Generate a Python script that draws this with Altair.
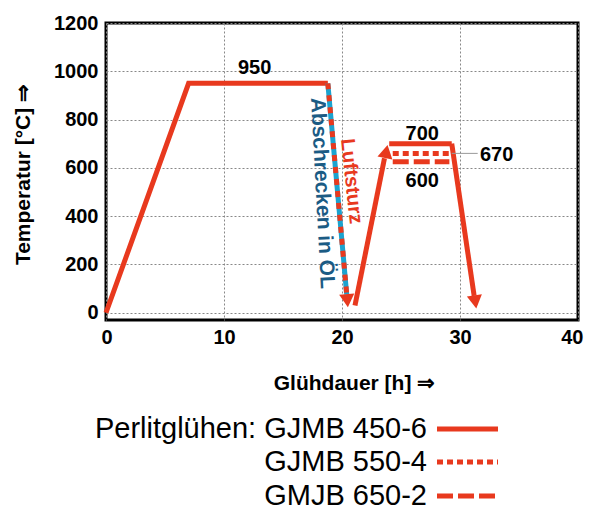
import math
import altair as alt
import pandas as pd

RED = "#E8391E"
CYAN = "#1BA3CF"
BLUE = "#1B5B84"

# ---- data ----
heat_t = [0, 7, 18.8]
heat_T = [0, 950, 950]
quench_t = [18.8, 20.4]
quench_T = [950, 75]
reheat_t = [21.1, 23.6]
reheat_T = [30, 640]
hold_t = [24.0, 29.3]
hold_T = [700, 700]
cool_t = [29.3, 31.2]
cool_T = [700, 70]
hold670_t = [24.3, 29.1]
hold670_T = [660, 660]
hold600_t = [24.3, 29.1]
hold600_T = [625, 625]
leader_t = [29.3, 31.5]
leader_T = [660, 660]

# arrow heads: center and the segment they continue
arrow_t = [20.45, 23.75, 31.3]
arrow_T = [50, 668, 45]
arrow_from_t = [18.8, 21.1, 29.3]
arrow_from_T = [950, 30, 700]

label_text = ["950", "700", "600", "670"]
label_t = [12.6, 26.8, 26.8, 33.1]
label_T = [1012, 740, 545, 655]

rot_text = ["Luftsturz", "Abschrecken in ÖL"]
rot_t = [20.8, 18.3]
rot_T = [545, 495]
rot_color = [RED, BLUE]
rot_angle = [84, 87]
rot_size = [20, 21]

legend_names = ["Perlitglühen: GJMB 450-6", "GJMB 550-4", "GMJB 650-2"]

x_ticks = [0, 10, 20, 30, 40]
y_ticks = [0, 200, 400, 600, 800, 1000, 1200]

W, H = 472, 297
XDOM = [0, 40]
YDOM = [-30, 1200]
px_per_t = W / (XDOM[1] - XDOM[0])
px_per_T = H / (YDOM[1] - YDOM[0])

xs = alt.Scale(domain=XDOM, nice=False, zero=False)
ys = alt.Scale(domain=YDOM, nice=False, zero=False)

FONT = "Liberation Sans"


def seg_df(t, T):
    return pd.DataFrame({"t": t, "T": T, "o": list(range(len(t)))})


def line(t, T, color, width=5, dash=None, cap="butt"):
    kw = dict(color=color, strokeWidth=width, strokeCap=cap, strokeJoin="miter")
    if dash:
        kw["strokeDash"] = dash
    return alt.Chart(seg_df(t, T)).mark_line(**kw).encode(
        x=alt.X("t:Q", scale=xs), y=alt.Y("T:Q", scale=ys), order="o:Q"
    )


axis_common = dict(
    titleFont=FONT,
    titleFontSize=21,
    titleFontWeight="bold",
    titleColor="black",
    titleBaseline="middle",
    labelFont=FONT,
    labelFontSize=20,
    labelFontWeight="bold",
    labelColor="black",
    format="d",
    domain=False,
    ticks=False,
    grid=True,
    gridColor="#888888",
    gridDash=[2, 2],
    gridWidth=1,
)

base_axes = alt.Chart(pd.DataFrame({"t": [0], "T": [0]})).mark_point(opacity=0).encode(
    x=alt.X(
        "t:Q",
        scale=xs,
        axis=alt.Axis(values=x_ticks, title="Glühdauer [h] ⇒", titleX=248, titleY=63,
                      labelPadding=7, labelFlush=True, labelFlushOffset=5, **axis_common),
    ),
    y=alt.Y(
        "T:Q",
        scale=ys,
        axis=alt.Axis(values=y_ticks, title="Temperatur [°C] ⇒", titleX=-83, titleY=151,
                      titleAngle=270, labelPadding=8, labelFlush=False, **axis_common),
    ),
)

layers = [base_axes]
layers.append(line(heat_t, heat_T, RED))
layers.append(line(quench_t, quench_T, CYAN))
layers.append(line(quench_t, quench_T, RED, dash=[6, 6]))
layers.append(line(reheat_t, reheat_T, RED))
layers.append(line(hold_t, hold_T, RED))
layers.append(line(cool_t, cool_T, RED))
layers.append(line(hold670_t, hold670_T, RED, dash=[6, 4]))
layers.append(line(hold600_t, hold600_T, RED, dash=[16, 5]))
layers.append(line(leader_t, leader_T, "#999999", width=1))

# arrow heads
angles = []
for t1, T1, t0, T0 in zip(arrow_t, arrow_T, arrow_from_t, arrow_from_T):
    dx = (t1 - t0) * px_per_t
    dy = -(T1 - T0) * px_per_T
    angles.append((math.degrees(math.atan2(dx, -dy)) + 360) % 360)
arrows = pd.DataFrame({"t": arrow_t, "T": arrow_T, "a": angles})
layers.append(
    alt.Chart(arrows)
    .mark_point(shape="triangle-up", filled=True, color=RED, size=230, opacity=1)
    .encode(x=alt.X("t:Q", scale=xs), y=alt.Y("T:Q", scale=ys), angle=alt.Angle("a:Q", scale=None))
)

labels = pd.DataFrame({"txt": label_text, "t": label_t, "T": label_T})
layers.append(
    alt.Chart(labels)
    .mark_text(font=FONT, fontSize=20, fontWeight="bold", color="black", align="center", baseline="middle")
    .encode(x=alt.X("t:Q", scale=xs), y=alt.Y("T:Q", scale=ys), text="txt:N")
)

for txt, t, T, c, a, s in zip(rot_text, rot_t, rot_T, rot_color, rot_angle, rot_size):
    layers.append(
        alt.Chart(pd.DataFrame({"txt": [txt], "t": [t], "T": [T]}))
        .mark_text(font=FONT, fontSize=s, fontWeight="bold", color=c, angle=a, align="center", baseline="middle")
        .encode(x=alt.X("t:Q", scale=xs), y=alt.Y("T:Q", scale=ys), text="txt:N")
    )

# legend key (below the plot)
leg_y = [406, 439, 473]
leg_dash = [None, [6, 4], [16, 5]]
for name, yy, dash in zip(legend_names, leg_y, leg_dash):
    layers.append(
        alt.Chart(pd.DataFrame({"txt": [name]}))
        .mark_text(font=FONT, fontSize=29, color="black", align="right", baseline="middle")
        .encode(x=alt.value(321), y=alt.value(yy), text="txt:N")
    )
    kw = dict(color=RED, strokeWidth=5, strokeCap="butt")
    if dash:
        kw["strokeDash"] = dash
    layers.append(
        alt.Chart(pd.DataFrame({"k": [0]}))
        .mark_rule(**kw)
        .encode(x=alt.value(331), x2=alt.value(392), y=alt.value(yy))
    )

chart = (
    alt.layer(*layers)
    .properties(
        width=W,
        height=H,
        autosize=alt.AutoSizeParams(type="none"),
        padding={"left": 98, "top": 15, "right": 6, "bottom": 191},
        background="white",
    )
    .configure_view(stroke="black", strokeWidth=3)
)

chart.save("out.html", embed_options={"renderer": "svg", "actions": False})
